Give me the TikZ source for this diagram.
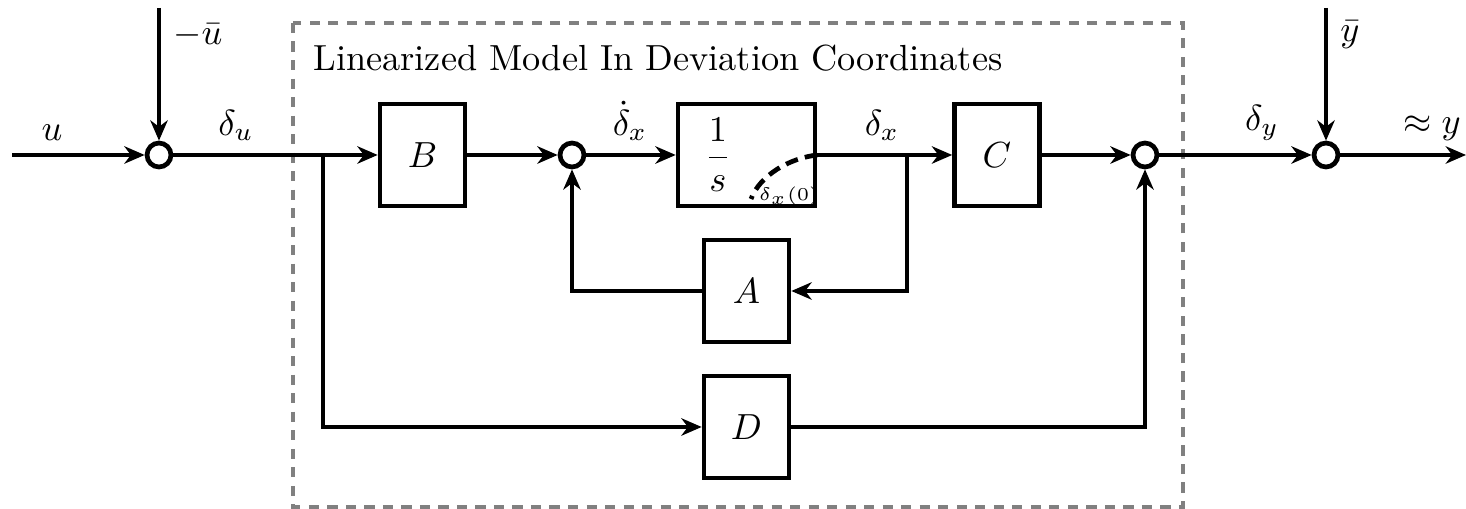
\documentclass[tikz,border=0pt]{standalone}
\usepackage{amsmath}
\usetikzlibrary{arrows.meta}
\begin{document}
\begin{tikzpicture}[x=0.2755pt,y=-0.2755pt, line width=1.3pt,
  blk/.style={draw, line width=1.3pt, minimum width=23.4pt, minimum height=28.1pt, inner sep=0pt},
  sumnode/.style={draw, circle, minimum size=6.6pt, inner sep=0pt, line width=1.3pt},
  conn/.style={-{Stealth[length=5.6pt,width=4.8pt,inset=1.8pt]}, line width=1.3pt},
  wire/.style={line width=1.3pt},
  frame/.style={draw=gray, line width=1pt, dash pattern=on 2.8pt off 2.3pt},
  initc/.style={line width=1.3pt, dash pattern=on 3.5pt off 2pt}]
\useasboundingbox (0,0) rectangle (1466,509);
% frame
\draw[frame] (293,23) rectangle (1183,507);
\node[anchor=base west, inner sep=0pt] (title) at (311,71) {Linearized Model In Deviation Coordinates};
% nodes
\node[sumnode] (s1) at (159,155) {};
\node[sumnode] (s2) at (572,155) {};
\node[sumnode] (s3) at (1145,155) {};
\node[sumnode] (s4) at (1326,155) {};
\node[blk] (B) at (422.5,155) {$B$};
\node[blk, minimum width=37.7pt] (I) at (746.5,155) {};
\node[blk] (C) at (997,155) {$C$};
\node[blk] (A) at (746.5,291) {$A$};
\node[blk] (D) at (746.5,427) {$D$};
\node (frac) at (718,155) {$\dfrac{1}{s}$};
\node[font=\fontsize{5.3}{6}\selectfont, inner sep=0pt] (x0) at (789,196) {$\delta_x(0)$};
% coordinates
\coordinate (in) at (12,155);
\coordinate (ubar) at (159,8);
\coordinate (ybar) at (1326,8);
\coordinate (out) at (1466,155);
\coordinate (br1) at (323,155);
\coordinate (br2) at (907,155);
\coordinate (ic0) at (751,199);
% connectors
\draw[conn] (in) -- (s1);
\draw[conn] (ubar) -- (s1);
\draw[wire] (s1) -- (br1);
\draw[conn] (br1) -- (B);
\draw[conn] (br1) |- (D);
\draw[conn] (B) -- (s2);
\draw[conn] (s2) -- (I);
\draw[wire] (I) -- (br2);
\draw[conn] (br2) -- (C);
\draw[conn] (br2) |- (A);
\draw[conn] (A) -| (s2);
\draw[conn] (C) -- (s3);
\draw[conn] (D) -| (s3);
\draw[conn] (s3) -- (s4);
\draw[conn] (ybar) -- (s4);
\draw[conn] (s4) -- (out);
\draw[initc] (I.east) .. controls (790,158) and (760,175) .. (ic0);
% labels
\node[above] (lu) at (52,155) {$u$};
\node[right] (lub) at (159,35) {$-\bar{u}$};
\node[above] (ldu) at (236,155) {$\delta_u$};
\node[above] (ldxd) at (630,155) {$\dot{\delta}_x$};
\node[above] (ldx) at (882,155) {$\delta_x$};
\node[above] (ldy) at (1262,155) {$\delta_y$};
\node[right] (lyb) at (1326,35) {$\bar{y}$};
\node[above] (ly) at (1432,155) {$\approx y$};
\end{tikzpicture}
\end{document}
